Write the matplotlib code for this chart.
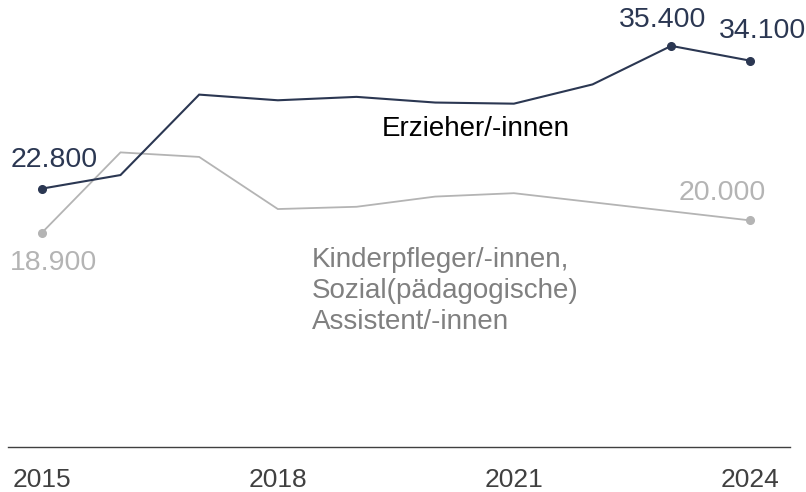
import matplotlib.pyplot as plt
import numpy as np

years = np.arange(2015, 2025)
erzieher = np.array([22800, 24000, 31100, 30600, 30900, 30400, 30300, 32000, 35400, 34100])
kinderpfleger = np.array([18900, 26000, 25600, 21000, 21200, 22100, 22400, 21600, 20800, 20000])
tick_years = [2015, 2018, 2021, 2024]

c_dark = "#2b3752"
c_gray = "#b4b4b4"

plt.rcParams["font.family"] = ["Liberation Sans", "DejaVu Sans"]

fig = plt.figure(figsize=(8.06, 4.92), dpi=100)
ax = fig.add_axes([0.0099, 0.0915, 0.9703, 0.9085])

ax.plot(years, kinderpfleger, color=c_gray, lw=1.3, solid_joinstyle="miter")
ax.plot(years, erzieher, color=c_dark, lw=1.5, solid_joinstyle="miter")

# end markers
ax.plot(years[[0, -1]], kinderpfleger[[0, -1]], "o", color=c_gray, ms=5.5)
ax.plot(years[[0, -2, -1]], erzieher[[0, -2, -1]], "o", color=c_dark, ms=5.5)

def fmt(v):
    return f"{v:,}".replace(",", ".")

def label(x, y, dx, dy, color):
    ax.annotate(fmt(y), xy=(x, y), xytext=(dx * 0.72, dy * 0.72),
                textcoords="offset points", ha="center", va="center",
                fontsize=20.5, color=color)

label(2015, erzieher[0], 12, 29, c_dark)
label(2015, kinderpfleger[0], 12, -30, c_gray)
label(2023, erzieher[-2], -9, 26, c_dark)
label(2024, erzieher[-1], 13, 30, c_dark)
label(2024, kinderpfleger[-1], -28, 27, c_gray)

ax.text(2019.32, 28070, "Erzieher/-innen", fontsize=20, color="black",
        ha="left", va="center")
ax.text(2018.43, 13770,
        "Kinderpfleger/-innen,\nSozial(pädagogische)\nAssistent/-innen",
        fontsize=20, color="#808080", ha="left", va="center", linespacing=1.25)

ax.set_xlim(2014.57, 2024.51)
ax.set_ylim(0, 39450)
ax.set_xticks(tick_years)
ax.set_xticklabels([str(y) for y in tick_years])
ax.set_yticks([])
ax.tick_params(axis="x", length=0, pad=15, labelsize=19, labelcolor="#404040")
for s in ["top", "right", "left"]:
    ax.spines[s].set_visible(False)
ax.spines["bottom"].set_color("#404040")
ax.spines["bottom"].set_linewidth(1.0)
ax.patch.set_visible(False)

fig.savefig("out.png", dpi=100)
